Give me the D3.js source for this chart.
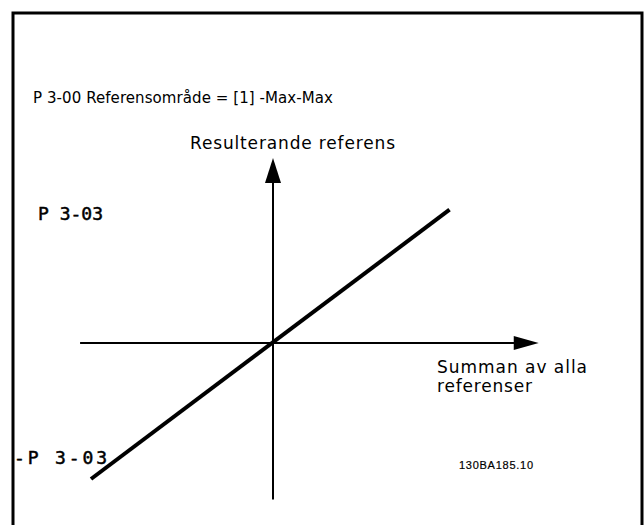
<!DOCTYPE html>
<html>
<head>
<meta charset="utf-8">
<script src="https://cdn.jsdelivr.net/npm/d3@7"></script>
<style>
  body { margin: 0; background: #fff; }
  text { fill: #000; }
</style>
</head>
<body>
<div id="chartDiv"></div>
<script>
var w = 644
var h = 525

// value ranges of the two axes (reference units, -max .. +max)
var xDomain = [-1, 1]
var yDomain = [-1, 1]

// extent of the drawn axes in the same units
var xAxisExtent = [-1.06, 1.46]
var yAxisExtent = [-1.15, 1.36]

// resulting reference vs sum of references
var lineX = [-1, 0.97]
var lineY = [-1, 0.98]

var title = "P 3-00 Referensområde = [1] -Max-Max"
var yTitle = "Resulterande referens"
var xTitle = ["Summan av alla", "referenser"]
var yTickLabels = ["P 3-03", "-P 3-03"]
var yTickValues = [1, -1]
var figCode = "130BA185.10"

var svg = d3.select("#chartDiv")
    .append("svg")
    .attr("width", w)
    .attr("height", h)

// frame (bottom edge runs off the picture)
svg.append("path")
    .attr("d", "M13,527 L13,13 L642,13 L642,527")
    .attr("fill", "none")
    .attr("stroke", "#000")
    .attr("stroke-width", 3)

var xScale = d3.scaleLinear().domain(xDomain).range([91, 455])
var yScale = d3.scaleLinear().domain(yDomain).range([479, 207])

// axes
svg.append("line")
    .attr("x1", xScale(xAxisExtent[0]))
    .attr("x2", xScale(xAxisExtent[1]) - 20)
    .attr("y1", yScale(0))
    .attr("y2", yScale(0))
    .attr("stroke", "#000")
    .attr("stroke-width", 2)

svg.append("line")
    .attr("x1", xScale(0))
    .attr("x2", xScale(0))
    .attr("y1", yScale(yAxisExtent[0]))
    .attr("y2", yScale(yAxisExtent[1]) + 20)
    .attr("stroke", "#000")
    .attr("stroke-width", 2)

// arrowheads
var xt = xScale(xAxisExtent[1]), y0 = yScale(0)
svg.append("path")
    .attr("d", "M" + xt + "," + y0 + " L" + (xt - 25) + "," + (y0 - 7) + " L" + (xt - 25) + "," + (y0 + 7) + "Z")
    .attr("fill", "#000")

var yt = yScale(yAxisExtent[1]), x0 = xScale(0)
svg.append("path")
    .attr("d", "M" + x0 + "," + yt + " L" + (x0 - 8) + "," + (yt + 25) + " L" + (x0 + 8) + "," + (yt + 25) + "Z")
    .attr("fill", "#000")

// characteristic line
var lineData = lineX.map(function(d, i) { return [d, lineY[i]] })
svg.append("path")
    .datum(lineData)
    .attr("d", d3.line()
        .x(function(d) { return xScale(d[0]) })
        .y(function(d) { return yScale(d[1]) }))
    .attr("fill", "none")
    .attr("stroke", "#000")
    .attr("stroke-width", 4)

// texts
svg.append("text")
    .attr("x", 33)
    .attr("y", 103)
    .attr("font-family", "DejaVu Sans")
    .attr("font-size", "15px")
    .attr("textLength", 300)
    .text(title)

svg.append("text")
    .attr("x", 190)
    .attr("y", 149)
    .attr("font-family", "DejaVu Sans")
    .attr("font-size", "17px")
    .attr("textLength", 205)
    .text(yTitle)

var xTitleLen = [150, 95]
svg.selectAll(".xtitle")
    .data(xTitle)
    .enter()
    .append("text")
    .attr("class", "xtitle")
    .attr("x", 437)
    .attr("y", function(d, i) { return 373 + i * 19 })
    .attr("font-family", "DejaVu Sans")
    .attr("font-size", "17px")
    .attr("textLength", function(d, i) { return xTitleLen[i] })
    .text(function(d) { return d })

var yLabLen = [65, 93]
svg.selectAll(".ylab")
    .data(yTickLabels)
    .enter()
    .append("text")
    .attr("class", "ylab")
    .attr("x", function(d, i) { return i == 0 ? 38 : 14 })
    .attr("y", function(d, i) { return yScale(yTickValues[i]) + (i == 0 ? 13 : -15) })
    .attr("font-family", "DejaVu Sans Mono")
    .attr("font-size", "18px")
    .attr("stroke", "#000")
    .attr("stroke-width", 0.5)
    .attr("textLength", function(d, i) { return yLabLen[i] })
    .text(function(d) { return d })

svg.append("text")
    .attr("x", 459)
    .attr("y", 469)
    .attr("font-family", "Liberation Sans")
    .attr("font-size", "11px")
    .attr("stroke", "#000")
    .attr("stroke-width", 0.2)
    .attr("textLength", 74)
    .text(figCode)
</script>
</body>
</html>
